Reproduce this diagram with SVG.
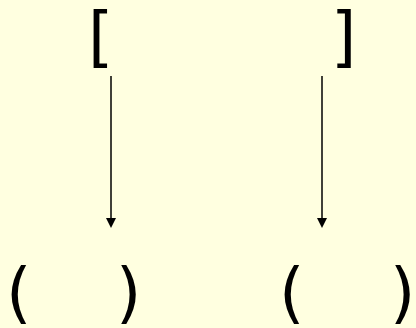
<svg xmlns="http://www.w3.org/2000/svg" width="416" height="328" viewBox="0 0 416 328">
<style>
.t{font-family:"DejaVu Sans",sans-serif;font-size:65px;fill:#000}
.c{stroke:#000;stroke-width:1.5;fill:none}
</style>
<rect width="416" height="328" fill="#FFFFE0"/>
<g id="n1"><text class="t" x="88" y="59">[</text></g>
<g id="n2"><text class="t" x="331" y="59">]</text></g>
<g id="n3"><text class="t" x="6" y="315">(</text><text class="t" x="116" y="315">)</text></g>
<g id="n4"><text class="t" x="279" y="315">(</text><text class="t" x="390" y="315">)</text></g>
<g id="connectors">
<line class="c" x1="111" y1="76" x2="111" y2="219"/>
<path d="M106,218 L116,218 L111,228 Z" fill="#000"/>
<line class="c" x1="322" y1="76" x2="322" y2="219"/>
<path d="M317,218 L327,218 L322,228 Z" fill="#000"/>
</g>
</svg>
